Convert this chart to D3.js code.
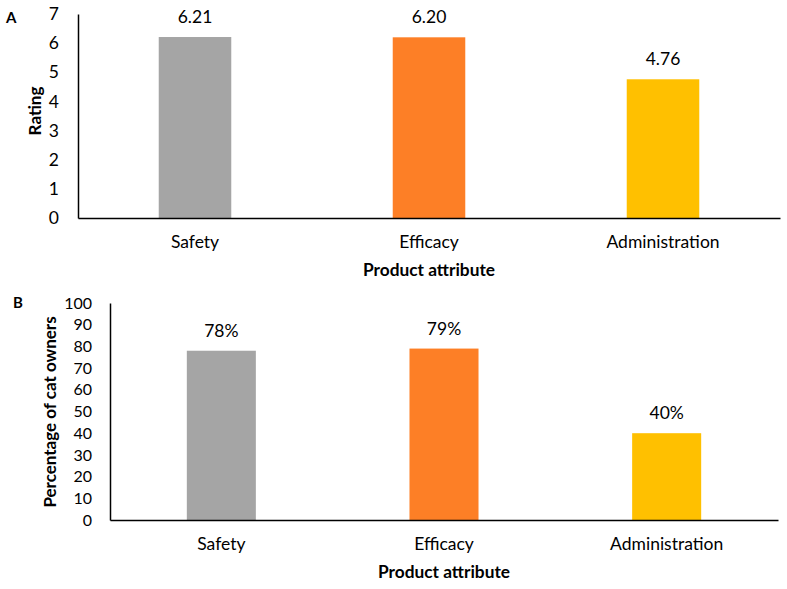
<!DOCTYPE html>
<html>
<head>
<meta charset="utf-8">
<script src="https://d3js.org/d3.v7.min.js"></script>
<style>
  body { margin: 0; background: #fff; }
  text { font-family: Lato, "Open Sans", sans-serif; fill: #000; }
</style>
</head>
<body>
<script>
// chart data
var categories = ["Safety", "Efficacy", "Administration"];
var ratings = [6.21, 6.20, 4.76];
var ratingLabels = ["6.21", "6.20", "4.76"];
var ratingTicks = [0, 1, 2, 3, 4, 5, 6, 7];
var owners = [78, 79, 40];
var ownerLabels = ["78%", "79%", "40%"];
var ownerTicks = [0, 10, 20, 30, 40, 50, 60, 70, 80, 90, 100];
var barColors = ["#a5a5a5", "#fd7f26", "#ffc000"];

var width = 787, height = 589;

var svg = d3.select("body").append("svg")
    .attr("width", width)
    .attr("height", height);

function drawPanel(p) {
    var x = d3.scaleBand()
        .domain(categories)
        .range([p.left, p.right])
        .paddingInner(0.69)
        .paddingOuter(0.345);

    var y = d3.scaleLinear()
        .domain([0, d3.max(p.ticks)])
        .range([p.bottom, p.top]);

    var g = svg.append("g");

    g.selectAll("rect")
      .data(p.values)
      .enter().append("rect")
        .attr("x", function(d, i) { return x(categories[i]); })
        .attr("width", x.bandwidth())
        .attr("y", function(d) { return y(d); })
        .attr("height", function(d) { return y(0) - y(d); })
        .attr("fill", function(d, i) { return barColors[i]; });

    g.selectAll(".val")
      .data(p.values)
      .enter().append("text")
        .attr("class", "val")
        .attr("x", function(d, i) { return x(categories[i]) + x.bandwidth() / 2; })
        .attr("y", function(d) { return y(d) - 14; })
        .attr("text-anchor", "middle")
        .attr("font-size", 17.5)
        .text(function(d, i) { return p.labels[i]; });

    var ya = g.append("g")
        .attr("transform", "translate(" + p.left + ",0)")
        .call(d3.axisLeft(y).tickValues(p.ticks).tickFormat(d3.format("d"))
            .tickSize(0).tickSizeOuter(0).tickPadding(p.tickPad));
    ya.selectAll("text").attr("font-size", p.tickFont).style("font-family", "Lato, sans-serif");
    ya.select(".domain").attr("stroke", "#000").attr("stroke-width", 1.5);

    var xa = g.append("g")
        .attr("transform", "translate(0," + p.bottom + ")")
        .call(d3.axisBottom(x).tickSize(0).tickSizeOuter(0).tickPadding(p.catPad));
    xa.selectAll("text").attr("font-size", 17.5).style("font-family", "Lato, sans-serif");
    xa.select(".domain").attr("stroke", "#000").attr("stroke-width", 1.5);

    g.append("text")
        .attr("x", (p.left + p.right) / 2)
        .attr("y", p.xTitleY)
        .attr("text-anchor", "middle")
        .attr("font-size", 17.3)
        .attr("font-weight", "bold")
        .text("Product attribute");

    g.append("text")
        .attr("transform", "translate(" + p.yTitleX + "," + p.yTitleMid + ") rotate(-90)")
        .attr("text-anchor", "middle")
        .attr("font-size", 17)
        .attr("font-weight", "bold")
        .text(p.yTitle);

    g.append("text")
        .attr("x", p.tagX)
        .attr("y", p.tagY)
        .attr("font-size", 15)
        .attr("font-weight", "bold")
        .text(p.tag);
}

drawPanel({
    values: ratings, labels: ratingLabels, ticks: ratingTicks,
    left: 78, right: 780, top: 14, bottom: 218,
    tickPad: 19, tickFont: 17.5, catPad: 18, xTitleY: 276,
    yTitle: "Rating", yTitleX: 41, yTitleMid: 111,
    tag: "A", tagX: 6, tagY: 23
});

drawPanel({
    values: owners, labels: ownerLabels, ticks: ownerTicks,
    left: 110, right: 778, top: 303, bottom: 520,
    tickPad: 18, tickFont: 16, catPad: 18, xTitleY: 578,
    yTitle: "Percentage of cat owners", yTitleX: 56, yTitleMid: 412,
    tag: "B", tagX: 13, tagY: 308
});
</script>
</body>
</html>
